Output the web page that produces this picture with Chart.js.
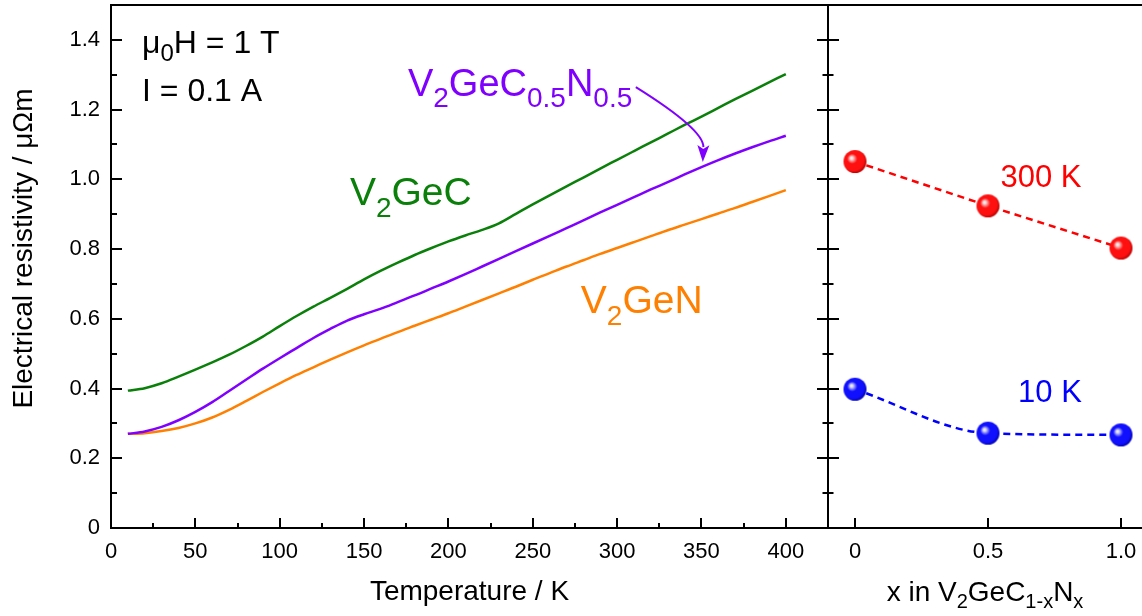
<!DOCTYPE html>
<html><head><meta charset="utf-8">
<script src="https://cdn.jsdelivr.net/npm/chart.js@4.4.1/dist/chart.umd.min.js"></script>
<style>
html,body{margin:0;padding:0;background:#fff;}
#wrap{position:relative;width:1142px;height:616px;overflow:hidden;background:#fff;}
canvas{position:absolute;top:0;}
#c1{left:0}
#c2{left:800px}
</style></head><body>
<div id="wrap"><canvas id="c1" width="828" height="616"></canvas><canvas id="c2" width="342" height="616"></canvas></div>
<script>
// ---------------- data ----------------
const temperatures = [10,20,30,40,50,60,70,80,90,100,110,120,130,140,150,160,170,180,190,200,
                      210,220,230,240,250,260,270,280,290,300,310,320,330,340,350,360,370,380,390,400];
const rhoV2GeC = [0.394,0.401,0.415,0.434,0.454,0.475,0.497,0.522,0.549,0.579,0.608,0.635,0.660,0.686,0.713,0.738,0.761,0.783,0.803,0.822,
                  0.839,0.855,0.874,0.901,0.928,0.954,0.980,1.005,1.031,1.056,1.081,1.106,1.131,1.156,1.180,1.205,1.230,1.254,1.278,1.302];
const rhoV2GeC05N05 = [0.270,0.277,0.290,0.309,0.333,0.361,0.393,0.425,0.457,0.487,0.516,0.545,0.571,0.595,0.613,0.629,0.648,0.667,0.687,0.707,
                       0.728,0.750,0.772,0.794,0.816,0.838,0.860,0.882,0.905,0.927,0.949,0.971,0.992,1.014,1.035,1.055,1.074,1.092,1.109,1.125];
const rhoV2GeN = [0.270,0.272,0.278,0.287,0.300,0.317,0.339,0.364,0.390,0.415,0.439,0.461,0.483,0.504,0.524,0.543,0.562,0.580,0.598,0.616,
                  0.635,0.654,0.673,0.692,0.712,0.731,0.750,0.768,0.786,0.803,0.820,0.837,0.854,0.870,0.886,0.902,0.918,0.935,0.952,0.969];
const compositionX = [0, 0.5, 1.0];
const rho300K = [1.051, 0.924, 0.803];
const rho10K = [0.398, 0.272, 0.267];
const tempTicks = [0,50,100,150,200,250,300,350,400];
const rhoTicks = [0,0.2,0.4,0.6,0.8,1.0,1.2,1.4];
const xTicks = [0,0.5,1.0];

// ---------------- styles ----------------
const FONT = "'Liberation Sans', Arial, Helvetica, sans-serif";
Chart.defaults.font.family = FONT;
Chart.defaults.color = '#000';
const GREEN = '#0a800a', PURPLE = '#8000ff', ORANGE = '#ff8000', RED = '#ff0000', BLUE = '#0000ff';

function drawRich(ctx, x, y, parts, size, subSize, subShift, color, align) {
  let w = 0; const ws = [];
  parts.forEach(p => { ctx.font = (p.sub ? subSize : size) + 'px ' + FONT; const m = ctx.measureText(p.t).width; ws.push(m); w += m; });
  let cx = align === 'center' ? x - w / 2 : x;
  ctx.fillStyle = color; ctx.textBaseline = 'alphabetic'; ctx.textAlign = 'left';
  parts.forEach((p, i) => { ctx.font = (p.sub ? subSize : size) + 'px ' + FONT; ctx.fillText(p.t, cx, y + (p.sub ? subShift : 0)); cx += ws[i]; });
}

function sphere(r, light, mid, dark) {
  const c = document.createElement('canvas');
  const s = Math.ceil(r * 2 + 2); c.width = s; c.height = s;
  const g = c.getContext('2d');
  const cx = s / 2, cy = s / 2;
  const grad = g.createRadialGradient(cx - r * 0.32, cy - r * 0.32, 0, cx - r * 0.1, cy - r * 0.1, r * 1.15);
  grad.addColorStop(0, '#ffffff');
  grad.addColorStop(0.12, light);
  grad.addColorStop(0.38, mid);
  grad.addColorStop(0.8, mid);
  grad.addColorStop(1, dark);
  g.fillStyle = grad;
  g.beginPath(); g.arc(cx, cy, r, 0, Math.PI * 2); g.fill();
  return c;
}
const redBall = sphere(11.5, '#ffd0d0', '#ff1010', '#b00000');
const blueBall = sphere(11.5, '#d0d0ff', '#1010ff', '#0000a8');

const fmt1 = v => v === 0 ? '0' : v.toFixed(1);
const noPad = s => { s.paddingTop = 0; s.paddingBottom = 0; s.paddingLeft = 0; s.paddingRight = 0; };

// ---------------- left panel ----------------
const leftNotes = [
  {x: 18.4, y: 1.362, parts: [{t:'\u03bc'},{t:'0',sub:true},{t:'H = 1 T'}], size: 32, sub: 24, shift: 8, color: '#000'},
  {x: 18.4, y: 1.224, parts: [{t:'I = 0.1 A'}], size: 32, sub: 24, shift: 8, color: '#000'},
  {x: 141.6, y: 0.926, parts: [{t:'V'},{t:'2',sub:true},{t:'GeC'}], size: 39, sub: 28, shift: 12, color: GREEN},
  {x: 176, y: 1.239, parts: [{t:'V'},{t:'2',sub:true},{t:'GeC'},{t:'0.5',sub:true},{t:'N'},{t:'0.5',sub:true}], size: 38, sub: 28, shift: 11, color: PURPLE},
  {x: 278.5, y: 0.616, parts: [{t:'V'},{t:'2',sub:true},{t:'GeN'}], size: 39, sub: 28, shift: 12, color: ORANGE}
];
const arrowPts = {p0: [311.1, 1.2645], c: [351.5, 1.154], p2: [350.8, 1.0495]};

const leftPlugin = {
  id: 'leftDeco',
  afterDraw(chart) {
    const {ctx, chartArea: {left, right, top, bottom}, scales: {x, y}} = chart;
    ctx.save();
    ctx.strokeStyle = '#000'; ctx.lineWidth = 2; ctx.lineCap = 'butt';
    ctx.beginPath();
    ctx.moveTo(left, top - 1); ctx.lineTo(left, bottom + 1);
    ctx.moveTo(left - 1, bottom); ctx.lineTo(right, bottom);
    ctx.moveTo(left - 1, top); ctx.lineTo(right, top);
    rhoTicks.forEach(v => { const py = Math.round(y.getPixelForValue(v)); ctx.moveTo(left, py); ctx.lineTo(left + 11, py);
      const mv = v + 0.1; if (mv < y.max - 1e-6) { const pm = Math.round(y.getPixelForValue(mv)); ctx.moveTo(left, pm); ctx.lineTo(left + 6, pm); } });
    tempTicks.forEach(v => { const px = Math.round(x.getPixelForValue(v)); ctx.moveTo(px, bottom); ctx.lineTo(px, bottom - 10);
      const mv = v + 25; if (mv < x.max - 1e-6) { const pm = Math.round(x.getPixelForValue(mv)); ctx.moveTo(pm, bottom); ctx.lineTo(pm, bottom - 5); } });
    ctx.stroke();

    leftNotes.forEach(n => drawRich(ctx, x.getPixelForValue(n.x), y.getPixelForValue(n.y), n.parts, n.size, n.sub, n.shift, n.color, 'left'));

    const P0 = [x.getPixelForValue(arrowPts.p0[0]), y.getPixelForValue(arrowPts.p0[1])];
    const C = [x.getPixelForValue(arrowPts.c[0]), y.getPixelForValue(arrowPts.c[1])];
    const P2 = [x.getPixelForValue(arrowPts.p2[0]), y.getPixelForValue(arrowPts.p2[1])];
    const dx = P2[0] - C[0], dy = P2[1] - C[1], L = Math.hypot(dx, dy), ux = dx / L, uy = dy / L;
    const hl = 17, hw = 6;
    const B = [P2[0] - ux * hl, P2[1] - uy * hl];
    ctx.strokeStyle = PURPLE; ctx.fillStyle = PURPLE; ctx.lineWidth = 2;
    ctx.beginPath(); ctx.moveTo(P0[0], P0[1]); ctx.quadraticCurveTo(C[0], C[1] + 4, B[0], B[1] + 2); ctx.stroke();
    ctx.beginPath(); ctx.moveTo(P2[0], P2[1]);
    ctx.lineTo(B[0] - uy * hw, B[1] + ux * hw);
    ctx.lineTo(B[0] + ux * 4, B[1] + uy * 4);
    ctx.lineTo(B[0] + uy * hw, B[1] - ux * hw);
    ctx.closePath(); ctx.fill();

    ctx.fillStyle = '#000'; ctx.font = '28px ' + FONT; ctx.textAlign = 'center'; ctx.textBaseline = 'alphabetic';
    ctx.fillText('Temperature / K', (left + right) / 2, 600);
    ctx.save(); ctx.translate(32, 248.5); ctx.rotate(-Math.PI / 2);
    ctx.fillText('Electrical resistivity / \u03bc\u03a9m', 0, 0);
    ctx.restore();
    ctx.restore();
  }
};

const lineDs = (label, data, color) => ({
  label, data: temperatures.map((t, i) => ({x: t, y: data[i]})),
  borderColor: color, borderWidth: 2.5, pointRadius: 0, fill: false, cubicInterpolationMode: 'monotone'
});

new Chart(document.getElementById('c1'), {
  type: 'line',
  data: { datasets: [
    lineDs('V2GeC', rhoV2GeC, GREEN),
    lineDs('V2GeC0.5N0.5', rhoV2GeC05N05, PURPLE),
    lineDs('V2GeN', rhoV2GeN, ORANGE)
  ]},
  options: {
    responsive: false, animation: false, devicePixelRatio: 1,
    layout: { autoPadding: false, padding: { top: 5, right: 0, left: 0, bottom: 0 } },
    plugins: { legend: { display: false }, tooltip: { enabled: false } },
    scales: {
      x: { type: 'linear', min: 0, max: 425,
        afterBuildTicks: s => { s.ticks = tempTicks.map(v => ({value: v})); },
        afterFit: s => { s.height = 88; noPad(s); },
        grid: { display: false, drawTicks: false }, border: { display: false },
        ticks: { font: { size: 22 }, color: '#000', padding: 11, maxRotation: 0, autoSkip: false, callback: v => String(v) } },
      y: { type: 'linear', min: 0, max: 1.5,
        afterBuildTicks: s => { s.ticks = rhoTicks.map(v => ({value: v})); },
        afterFit: s => { s.width = 111; noPad(s); },
        grid: { display: false, drawTicks: false }, border: { display: false },
        ticks: { font: { size: 22 }, color: '#000', padding: 11, callback: v => fmt1(v) } }
    }
  },
  plugins: [leftPlugin]
});

// ---------------- right panel ----------------
const rightNotes = [
  {x: 0.547, y: 0.978, text: '300 K', color: RED},
  {x: 0.613, y: 0.362, text: '10 K', color: BLUE}
];
const rightPlugin = {
  id: 'rightDeco',
  afterDraw(chart) {
    const {ctx, chartArea: {left, right, top, bottom}, scales: {x, y}} = chart;
    ctx.save();
    ctx.strokeStyle = '#000'; ctx.lineWidth = 2;
    ctx.beginPath();
    ctx.moveTo(left, top - 1); ctx.lineTo(left, bottom + 1);
    ctx.moveTo(left, bottom); ctx.lineTo(right + 2, bottom);
    ctx.moveTo(left, top); ctx.lineTo(right + 2, top);
    rhoTicks.forEach(v => { const py = Math.round(y.getPixelForValue(v)); ctx.moveTo(left - 11, py); ctx.lineTo(left + 11, py);
      const mv = v + 0.1; if (mv < y.max - 1e-6) { const pm = Math.round(y.getPixelForValue(mv)); ctx.moveTo(left - 5.5, pm); ctx.lineTo(left + 5.5, pm); } });
    xTicks.forEach(v => { const px = Math.round(x.getPixelForValue(v)); ctx.moveTo(px, bottom); ctx.lineTo(px, bottom - 10); });
    ctx.stroke();
    ctx.font = '31px ' + FONT; ctx.textAlign = 'left'; ctx.textBaseline = 'alphabetic';
    rightNotes.forEach(n => { ctx.fillStyle = n.color; ctx.fillText(n.text, x.getPixelForValue(n.x), y.getPixelForValue(n.y)); });
    drawRich(ctx, (left + right) / 2, 601,
      [{t:'x in V'},{t:'2',sub:true},{t:'GeC'},{t:'1-x',sub:true},{t:'N'},{t:'x',sub:true}], 28, 20, 7, '#000', 'center');
    ctx.restore();
  }
};

new Chart(document.getElementById('c2'), {
  type: 'line',
  data: { datasets: [
    { label: '300 K', data: compositionX.map((v, i) => ({x: v, y: rho300K[i]})), borderColor: RED, borderWidth: 2.5,
      borderDash: [7, 5], tension: 0, pointStyle: redBall, pointRadius: 12, fill: false },
    { label: '10 K', data: compositionX.map((v, i) => ({x: v, y: rho10K[i]})), borderColor: BLUE, borderWidth: 2.5,
      borderDash: [7, 5], cubicInterpolationMode: 'monotone', pointStyle: blueBall, pointRadius: 12, fill: false }
  ]},
  options: {
    responsive: false, animation: false, devicePixelRatio: 1,
    layout: { autoPadding: false, padding: { top: 5, right: 0, left: 0, bottom: 0 } },
    plugins: { legend: { display: false }, tooltip: { enabled: false } },
    scales: {
      x: { type: 'linear', min: -0.1015, max: 1.079,
        afterBuildTicks: s => { s.ticks = xTicks.map(v => ({value: v})); },
        afterFit: s => { s.height = 88; noPad(s); },
        grid: { display: false, drawTicks: false }, border: { display: false },
        ticks: { font: { size: 22 }, color: '#000', padding: 11, maxRotation: 0, autoSkip: false, callback: v => fmt1(v) } },
      y: { type: 'linear', min: 0, max: 1.5,
        afterBuildTicks: s => { s.ticks = rhoTicks.map(v => ({value: v})); },
        afterFit: s => { s.width = 28; noPad(s); },
        grid: { display: false, drawTicks: false }, border: { display: false },
        ticks: { display: false } }
    }
  },
  plugins: [rightPlugin]
});
</script>
</body></html>
